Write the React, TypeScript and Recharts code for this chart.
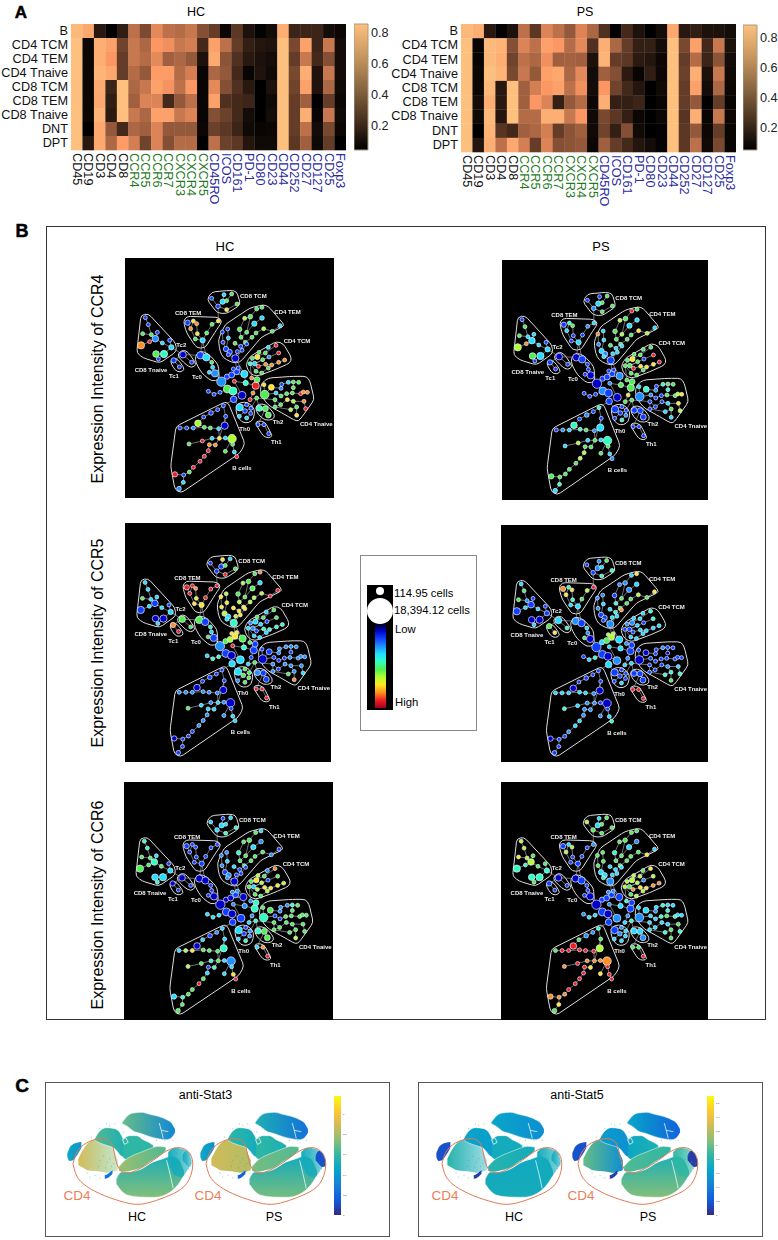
import React from "react";
import {
  Area,
  Bar,
  BarChart,
  ComposedChart,
  Line,
  ReferenceArea,
  Scatter,
  ScatterChart,
  XAxis,
  YAxis,
} from "recharts";

const FONT = "'Liberation Sans', Arial, sans-serif";

// ---- panel A ----
const rowNames = ["B", "CD4 TCM", "CD4 TEM", "CD4 Tnaive", "CD8 TCM", "CD8 TEM", "CD8 Tnaive", "DNT", "DPT"];
const lineageMarkers = ["CD45", "CD19", "CD3", "CD4", "CD8"];
const chemokineMarkers = ["CCR4", "CCR5", "CCR6", "CCR7", "CXCR3", "CXCR4", "CXCR5"];
const functionMarkers = ["CD45RO", "ICOS", "CD161", "PD-1", "CD80", "CD23", "CD44", "CD252", "CD27", "CD127", "CD25", "Foxp3"];
const markers = [...lineageMarkers, ...chemokineMarkers, ...functionMarkers];

const heatHC = [
  [.82, .75, .15, .06, .17, .52, .36, .62, .52, .50, .55, .38, .30, .08, .28, .12, .06, .10, .78, .20, .20, .20, .10, .08],
  [.85, .08, .78, .72, .33, .55, .48, .68, .65, .55, .58, .22, .72, .52, .30, .18, .14, .13, .85, .35, .72, .20, .55, .10],
  [.85, .08, .78, .68, .30, .55, .50, .62, .45, .48, .42, .12, .76, .40, .25, .15, .12, .10, .85, .30, .55, .22, .38, .10],
  [.85, .08, .80, .75, .30, .50, .42, .70, .70, .50, .58, .07, .48, .42, .22, .07, .13, .09, .85, .35, .78, .13, .55, .10],
  [.85, .08, .76, .20, .85, .48, .55, .72, .66, .52, .68, .07, .62, .38, .25, .15, .04, .12, .85, .33, .72, .13, .48, .09],
  [.85, .08, .75, .17, .85, .45, .60, .60, .22, .42, .52, .07, .72, .25, .22, .20, .04, .09, .85, .30, .45, .05, .30, .08],
  [.85, .08, .80, .16, .87, .55, .48, .72, .72, .55, .60, .07, .38, .32, .22, .10, .04, .10, .85, .30, .78, .07, .55, .09],
  [.85, .04, .75, .42, .22, .48, .45, .60, .42, .42, .42, .08, .32, .28, .20, .09, .07, .08, .85, .30, .52, .10, .35, .08],
  [.85, .15, .75, .48, .70, .58, .33, .60, .38, .50, .50, .05, .52, .32, .28, .14, .09, .09, .85, .28, .45, .09, .30, .05],
];

const heatPS = [
  [.82, .78, .15, .06, .12, .52, .28, .60, .52, .42, .60, .48, .25, .06, .22, .12, .05, .10, .75, .15, .17, .12, .12, .10],
  [.88, .07, .82, .80, .38, .60, .52, .72, .68, .50, .62, .25, .78, .48, .30, .18, .18, .10, .88, .35, .72, .22, .55, .12],
  [.88, .07, .82, .78, .33, .52, .48, .65, .45, .46, .45, .12, .80, .30, .28, .16, .14, .08, .88, .30, .50, .20, .40, .10],
  [.88, .08, .85, .80, .35, .55, .42, .72, .75, .48, .62, .10, .45, .38, .16, .07, .17, .08, .88, .32, .78, .12, .55, .09],
  [.88, .08, .82, .15, .85, .45, .58, .68, .72, .52, .65, .10, .68, .33, .22, .14, .04, .09, .88, .30, .72, .10, .48, .08],
  [.88, .10, .78, .15, .85, .45, .68, .60, .18, .42, .50, .08, .78, .18, .18, .20, .04, .07, .88, .30, .42, .05, .30, .07],
  [.88, .09, .82, .14, .88, .50, .50, .78, .78, .55, .68, .09, .35, .28, .18, .08, .04, .08, .88, .27, .78, .07, .55, .08],
  [.88, .04, .80, .27, .22, .45, .48, .58, .30, .40, .45, .09, .33, .18, .38, .09, .05, .06, .88, .28, .42, .08, .30, .07],
  [.88, .14, .78, .52, .75, .58, .30, .60, .38, .40, .42, .08, .45, .30, .22, .14, .10, .06, .88, .28, .52, .09, .35, .07],
];

const copperTicks = [0.2, 0.4, 0.6, 0.8];

// ---- panel B : one tree, six colourings ----
const nodes: [number, number, number][] = [
  // CD8 TCM
  [395, 146, 5], [432, 135, 5], [455, 133, 5], [428, 156, 7], [440, 153, 5], [414, 170, 6], [471, 163, 5], [440, 180, 5],
  // CD8 TEM
  [323, 219, 7], [340, 214, 5], [332, 237, 5], [350, 222, 5], [352, 252, 5], [346, 268, 5], [368, 272, 7], [380, 250, 5], [396, 224, 5], [415, 214, 5],
  // CD8 Tnaive
  [196, 204, 5], [205, 225, 5], [188, 252, 5], [214, 255, 5], [232, 248, 5], [226, 267, 9], [235, 328, 5], [209, 276, 5], [183, 287, 10], [247, 280, 5], [269, 272, 5], [274, 293, 7], [228, 313, 9], [252, 313, 10],
  // Tc2, Tc1
  [309, 315, 9], [335, 338, 5], [281, 332, 7], [298, 352, 5],
  // Tc0
  [361, 317, 10], [379, 323, 10], [395, 338, 5], [398, 353, 5], [388, 368, 5], [405, 371, 10],
  // CD4 TEM
  [546, 173, 5], [530, 178, 5], [511, 201, 6], [494, 206, 5], [523, 222, 7], [546, 205, 6], [479, 239, 6], [500, 248, 5], [483, 263, 5], [496, 278, 5], [516, 263, 5], [528, 250, 5], [551, 237, 5], [577, 245, 5], [600, 228, 5],
  [427, 247, 5], [443, 238, 5], [445, 265, 5], [429, 278, 5], [465, 281, 5], [482, 290, 5], [500, 283, 5], [486, 302, 5], [472, 306, 5], [438, 298, 7], [449, 307, 7], [445, 315, 5], [466, 326, 10],
  // CD4 TCM
  [588, 287, 5], [565, 293, 5], [596, 310, 5], [556, 310, 5], [537, 308, 5], [532, 322, 7], [517, 326, 5], [567, 322, 5], [548, 330, 5], [510, 342, 5], [524, 342, 6], [535, 350, 5], [557, 344, 5], [575, 346, 5], [596, 338, 5], [614, 331, 5], [528, 365, 5], [545, 370, 5], [565, 355, 5],
  // centre
  [424, 396, 13], [442, 418, 11], [459, 424, 11], [486, 437, 11], [461, 449, 9], [441, 381, 7], [455, 376, 8], [470, 366, 8], [493, 373, 10], [497, 400, 7], [527, 408, 10], [531, 390, 8], [515, 385, 5], [460, 358, 5], [475, 355, 5], [463, 395, 5], [385, 425, 5], [402, 434, 5], [420, 428, 5], [519, 430, 5], [510, 450, 5], [530, 445, 5],
  // CD4 Tnaive
  [554, 435, 12], [574, 413, 8], [552, 405, 5], [605, 404, 5], [625, 398, 5], [640, 397, 5], [640, 414, 5], [656, 398, 5], [603, 416, 5], [588, 430, 5], [603, 439, 5], [620, 432, 5], [637, 430, 5], [662, 432, 5], [682, 428, 5], [670, 427, 5], [622, 450, 5], [640, 455, 5], [672, 455, 5], [650, 472, 5], [650, 497, 5], [632, 480, 5], [677, 477, 5], [602, 465, 5], [585, 472, 5], [585, 450, 5],
  // Th2
  [538, 476, 8], [556, 477, 8], [565, 496, 8],
  // Th0
  [479, 473, 10], [500, 465, 5], [495, 484, 6], [513, 476, 5], [512, 491, 5], [500, 505, 5], [478, 500, 5],
  // Th1
  [534, 525, 5], [552, 525, 5], [566, 552, 5],
  // B cells
  [430, 468, 5], [413, 480, 5], [393, 490, 6], [371, 502, 5], [354, 521, 9], [373, 533, 5], [391, 535, 5], [416, 537, 5], [434, 528, 10], [300, 535, 5], [320, 535, 5], [340, 535, 5], [437, 500, 5], [456, 567, 12], [436, 565, 5], [418, 566, 5], [396, 566, 5], [367, 574, 5], [327, 583, 5], [406, 586, 5], [388, 585, 5], [385, 603, 5], [373, 620, 5], [360, 635, 5], [340, 653, 5], [328, 667, 5], [311, 676, 5], [285, 674, 7], [310, 698, 5], [297, 717, 6], [436, 605, 5], [458, 584, 5], [463, 607, 5], [470, 621, 5],
];

const branches = [
  [0, 5], [1, 3, 5], [2, 4, 3], [6, 7, 5], [5, 17],
  [8, 10, 13, 14], [9, 10], [11, 12, 14], [14, 15, 16, 17],
  [18, 19, 21, 23], [20, 21], [22, 23], [26, 25, 23], [23, 27, 29, 31, 30], [28, 29], [31, 24], [29, 32],
  [32, 33], [34, 35], [34, 32], [32, 36], [36, 14], [37, 14], [36, 37, 38, 39, 41], [40, 41], [41, 89],
  [56, 55, 54, 53, 52, 51, 62], [42, 43, 44, 45, 48, 50, 51], [47, 46, 49, 50], [44, 49],
  [58, 59, 66], [57, 60, 66, 68, 69], [67, 69], [61, 62, 64, 69], [63, 64], [65, 69], [69, 96],
  [70, 73, 76, 79], [71, 73], [72, 77, 80], [74, 75, 76], [78, 80, 79], [85, 84, 83, 82, 81, 80], [88, 87, 86, 79], [79, 101],
  [96, 103], [96, 102], [95, 96], [94, 95], [94, 89], [89, 90, 91, 92], [91, 93], [90, 107, 106, 105], [97, 103], [97, 98, 99], [99, 100], [100, 101], [97, 95], [99, 108, 109, 110], [92, 104], [104, 98], [93, 140], [93, 150], [69, 97],
  [113, 111], [112, 111], [112, 119, 114, 115, 116, 118], [117, 116], [111, 120, 121, 122, 123, 124, 125], [126, 124], [136, 134, 127, 128, 129, 133], [128, 130, 131], [135, 132, 130], [135, 136], [110, 136], [134, 135],
  [110, 137, 138, 139], [110, 143], [143, 141, 140], [143, 142, 146], [143, 144, 145], [147, 148, 149], [138, 147],
  [150, 151, 152, 153, 154, 155, 156, 157, 158], [150, 162, 158], [159, 160, 161, 155], [163, 164, 165, 166, 167, 168], [165, 169, 170, 171, 172, 173, 174, 175, 176, 177], [176, 178, 179], [163, 180], [163, 181, 182, 183], [162, 165], [157, 165],
];

const clusterOutlines: [number, number][][] = [
  [[381, 150], [395, 127], [450, 122], [470, 125], [482, 165], [440, 192], [412, 190]],
  [[310, 215], [320, 200], [415, 203], [427, 215], [410, 240], [375, 295], [350, 295], [320, 250]],
  [[170, 310], [183, 196], [205, 192], [287, 280], [290, 305], [240, 340], [190, 325]],
  [[295, 310], [310, 300], [325, 308], [350, 345], [335, 355], [318, 345], [295, 322]],
  [[270, 335], [280, 325], [295, 330], [315, 360], [300, 368], [285, 362]],
  [[345, 320], [360, 303], [385, 312], [415, 345], [418, 390], [395, 395], [365, 370], [348, 340]],
  [[415, 270], [435, 225], [510, 175], [550, 165], [565, 170], [615, 228], [545, 262], [480, 338], [460, 340], [430, 325], [420, 305]],
  [[497, 345], [510, 320], [590, 275], [610, 282], [635, 325], [630, 340], [585, 360], [530, 380], [510, 372]],
  [[540, 425], [545, 400], [565, 385], [640, 380], [680, 380], [690, 395], [703, 450], [660, 510], [650, 515], [615, 495], [570, 470], [555, 455]],
  [[525, 475], [535, 462], [560, 465], [585, 495], [580, 510], [555, 512], [535, 495]],
  [[467, 470], [480, 458], [505, 458], [525, 480], [520, 510], [505, 520], [485, 518], [470, 495]],
  [[525, 520], [535, 513], [555, 517], [578, 560], [565, 565], [550, 560]],
  [[288, 530], [435, 457], [445, 460], [495, 582], [480, 610], [303, 730], [285, 720], [272, 650]],
];

const clusterLabels = ["CD8 TCM", "CD8 TEM", "CD4 TEM", "CD4 TCM", "Tc2", "CD8 Tnaive", "Tc1", "Tc0", "CD4 Tnaive", "Th2", "Th0", "Th1", "B cells"];
const clusterLabelX = [480, 285, 583, 611, 289, 164, 267, 336, 660, 578, 478, 573, 457];
const clusterLabelY = [139, 191, 188, 273, 285, 360, 380, 382, 523, 518, 537, 578, 656];

// expression level 0 (low) .. 9 (high), same node order as `nodes`
const ccr4HC = [
  1, 3, 5, 3, 5, 1, 5, 7,
  1, 7, 8, 8, 7, 5, 3, 5, 5, 7,
  1, 1, 5, 5, 1, 2, 1, 9, 8, 3, 1, 3, 5, 4,
  0, 1, 1, 1,
  1, 3, 5, 3, 3, 2,
  5, 5, 5, 6, 3, 3, 5, 5, 5, 5, 5, 5, 6, 5, 3, 1, 1, 3, 1, 5, 1, 1, 1, 1, 1, 1, 1, 0,
  9, 3, 9, 5, 5, 7, 5, 2, 5, 4, 3, 9, 8, 8, 8, 8, 5, 5, 5,
  2, 5, 4, 0, 1, 1, 1, 1, 3, 4, 9, 5, 8, 1, 1, 9, 1, 1, 1, 8, 9, 5,
  5, 7, 7, 1, 3, 5, 5, 5, 2, 3, 5, 5, 5, 9, 8, 8, 7, 6, 8, 5, 7, 6, 9, 5, 5, 5,
  4, 5, 5,
  3, 1, 1, 1, 1, 3, 3,
  1, 1, 1,
  1, 1, 1, 1, 6, 5, 5, 3, 0, 1, 1, 2, 1, 6, 3, 7, 3, 9, 5, 8, 8, 9, 9, 9, 9, 5, 1, 9, 3, 2, 5, 5, 3, 9,
];
const ccr4PS = [
  1, 1, 5, 3, 5, 2, 5, 5,
  1, 4, 3, 5, 1, 1, 3, 1, 2, 3,
  1, 5, 5, 3, 3, 3, 1, 8, 6, 3, 1, 3, 5, 3,
  0, 1, 1, 1,
  0, 1, 1, 1, 1, 0,
  5, 9, 5, 6, 3, 3, 5, 6, 5, 5, 5, 5, 7, 6, 3, 8, 3, 3, 2, 5, 3, 3, 3, 3, 3, 2, 3, 1,
  5, 5, 9, 5, 5, 7, 5, 1, 5, 5, 5, 9, 7, 7, 7, 9, 5, 5, 5,
  0, 2, 1, 0, 1, 1, 1, 1, 2, 5, 5, 5, 5, 1, 1, 2, 1, 1, 1, 7, 5, 5,
  2, 4, 3, 1, 4, 5, 4, 5, 2, 2, 1, 1, 5, 5, 7, 6, 1, 3, 7, 5, 3, 3, 6, 1, 1, 1,
  1, 1, 1,
  1, 1, 1, 1, 2, 4, 1,
  1, 1, 1,
  4, 1, 2, 1, 4, 4, 5, 2, 3, 1, 2, 3, 1, 4, 3, 5, 3, 6, 3, 5, 5, 6, 6, 5, 5, 5, 5, 5, 4, 3, 5, 5, 3, 2,
];
const ccr5HC = [
  1, 7, 3, 1, 5, 1, 5, 9,
  9, 9, 9, 8, 7, 7, 7, 9, 9, 9,
  3, 3, 5, 3, 3, 1, 3, 3, 1, 3, 1, 3, 0, 0,
  5, 5, 8, 9,
  5, 1, 4, 3, 5, 1,
  8, 5, 5, 6, 5, 3, 5, 5, 6, 7, 6, 6, 6, 9, 9, 7, 6, 7, 7, 7, 7, 7, 7, 6, 6, 3, 3, 4,
  5, 3, 5, 5, 5, 3, 2, 1, 3, 3, 2, 1, 4, 4, 4, 4, 3, 3, 3,
  2, 1, 0, 3, 3, 5, 6, 7, 5, 4, 1, 1, 5, 7, 7, 9, 3, 4, 4, 1, 3, 5,
  0, 1, 1, 2, 2, 2, 1, 2, 2, 1, 1, 1, 2, 2, 2, 2, 2, 2, 2, 2, 8, 5, 3, 1, 2, 2,
  2, 1, 1,
  3, 5, 5, 5, 5, 5, 2,
  9, 9, 9,
  1, 1, 1, 1, 0, 2, 2, 2, 0, 2, 2, 2, 1, 0, 2, 3, 2, 3, 5, 3, 3, 2, 2, 2, 1, 1, 1, 0, 1, 1, 2, 1, 3, 3,
];
const ccr5PS = [
  1, 2, 5, 2, 3, 1, 4, 4,
  8, 4, 7, 7, 4, 3, 3, 5, 6, 9,
  3, 5, 5, 2, 1, 1, 3, 3, 1, 3, 1, 1, 0, 0,
  3, 4, 5, 7,
  2, 1, 3, 2, 5, 0,
  7, 3, 2, 2, 2, 3, 1, 5, 4, 5, 5, 5, 6, 5, 7, 2, 2, 3, 2, 3, 4, 8, 3, 3, 1, 1, 1, 2,
  4, 3, 4, 3, 3, 2, 2, 1, 3, 1, 1, 1, 3, 3, 3, 3, 3, 3, 3,
  1, 1, 0, 2, 3, 3, 5, 6, 3, 3, 1, 1, 2, 6, 6, 3, 1, 3, 4, 2, 3, 3,
  0, 0, 1, 1, 2, 1, 0, 1, 1, 1, 1, 1, 1, 1, 1, 1, 1, 2, 3, 4, 5, 4, 4, 1, 1, 1,
  1, 1, 1,
  1, 1, 1, 1, 1, 3, 1,
  9, 9, 9,
  1, 1, 1, 1, 0, 3, 3, 2, 0, 3, 3, 3, 1, 0, 1, 2, 2, 3, 4, 2, 2, 2, 3, 3, 2, 1, 1, 0, 1, 1, 2, 1, 3, 4,
];
const ccr6HC = [
  3, 1, 3, 3, 3, 3, 4, 4,
  1, 1, 1, 1, 1, 1, 1, 1, 1, 1,
  4, 4, 5, 5, 3, 4, 4, 5, 5, 5, 1, 3, 3, 3,
  0, 1, 0, 1,
  0, 0, 1, 1, 1, 0,
  3, 5, 5, 5, 3, 2, 4, 5, 5, 5, 5, 5, 5, 2, 1, 2, 2, 3, 2, 3, 1, 1, 1, 1, 1, 2, 2, 0,
  8, 2, 5, 5, 6, 7, 5, 1, 6, 5, 3, 6, 7, 7, 7, 6, 5, 5, 6,
  0, 1, 0, 1, 1, 0, 0, 1, 0, 2, 4, 4, 2, 2, 2, 2, 3, 3, 3, 2, 3, 4,
  4, 5, 5, 2, 2, 4, 5, 5, 2, 1, 1, 5, 5, 5, 5, 5, 5, 5, 5, 5, 6, 5, 5, 5, 5, 5,
  4, 5, 5,
  3, 1, 1, 2, 2, 4, 3,
  3, 8, 9,
  3, 2, 1, 3, 0, 5, 5, 5, 4, 3, 6, 7, 3, 2, 3, 5, 4, 5, 6, 4, 1, 3, 5, 9, 5, 5, 4, 3, 5, 5, 3, 3, 7, 9,
];
const ccr6PS = [
  6, 3, 5, 3, 5, 5, 5, 5,
  1, 3, 6, 6, 1, 1, 1, 1, 1, 2,
  6, 6, 7, 6, 5, 6, 5, 4, 4, 5, 5, 4, 4, 4,
  0, 1, 1, 1,
  0, 1, 1, 1, 1, 0,
  5, 5, 5, 5, 3, 2, 4, 5, 5, 5, 5, 5, 5, 7, 3, 5, 5, 5, 5, 3, 3, 3, 3, 3, 3, 3, 4, 2,
  7, 5, 6, 6, 6, 6, 6, 2, 6, 6, 5, 8, 7, 7, 8, 8, 5, 6, 6,
  0, 1, 0, 2, 1, 1, 1, 1, 1, 3, 1, 1, 4, 2, 2, 2, 2, 3, 3, 2, 3, 4,
  2, 3, 3, 3, 4, 3, 4, 3, 2, 3, 3, 4, 5, 4, 3, 3, 3, 3, 5, 5, 5, 4, 4, 3, 3, 3,
  3, 3, 2,
  1, 2, 2, 3, 3, 3, 3,
  5, 5, 9,
  4, 2, 2, 5, 9, 9, 9, 9, 6, 5, 9, 9, 5, 8, 8, 8, 8, 9, 8, 7, 9, 9, 9, 9, 9, 8, 8, 8, 7, 5, 7, 9, 9, 9,
];

const sizeLegendX = [13, 13];
const sizeLegendY = [6, 26];
const sizeLegendR = [4, 13];

// ---- panel C ----
const blobTop = [[368, 185, 190], [385, 165, 200], [400, 158, 212], [425, 156, 220], [450, 162, 229], [475, 168, 235], [500, 178, 238], [515, 188, 232], [525, 205, 218]];
const blobCrescent = [[203, 278, 290], [210, 262, 302], [220, 252, 300], [232, 247, 285], [245, 245, 262]];
const blobLeft = [[236, 295, 315], [250, 268, 322], [265, 248, 330], [285, 238, 332], [305, 236, 334], [325, 243, 337], [340, 268, 334], [354, 300, 330]];
const blobMidUp = [[285, 235, 240], [300, 212, 248], [320, 202, 255], [345, 205, 265], [365, 225, 288], [375, 250, 292]];
const blobMidRight = [[370, 235, 292], [390, 226, 302], [410, 226, 297], [430, 238, 287], [445, 245, 277], [460, 255, 264]];
const blobLower = [[350, 355, 372], [365, 335, 392], [385, 335, 405], [420, 328, 410], [460, 305, 411], [490, 295, 406], [515, 288, 392], [535, 296, 372], [552, 330, 345]];
const blobBand = [[358, 318, 332], [375, 300, 335], [400, 285, 330], [425, 275, 322], [450, 265, 305], [475, 258, 290], [497, 260, 272]];
const blobHaze = [[505, 275, 300], [525, 262, 345], [545, 265, 350], [565, 275, 325], [575, 300, 310]];
const blobStreak = [[315, 345, 355], [325, 340, 352], [338, 330, 340]];
const blobPatch = [[548, 285, 300], [558, 272, 312], [568, 278, 320], [578, 300, 318]];
const blobs = [blobTop, blobCrescent, blobLeft, blobMidUp, blobMidRight, blobLower, blobBand, blobHaze, blobStreak, blobPatch];
const blobStroked = [true, false, false, true, true, true, true, false, false, false];

// parula level at each end of a blob, then the opacity at the far end
const stat3HC = [[.58, .28, 1], [.4, .32, 1], [.76, .62, .4], [.55, .45, 1], [.5, .5, 1], [.44, .62, 1], [.66, .55, 1], [.42, .42, .5], [.2, .2, 1], [.42, .42, 0]];
const stat3PS = [[.45, .2, 1], [.4, .3, 1], [.75, .7, 1], [.5, .42, 1], [.5, .45, 1], [.42, .6, 1], [.6, .55, 1], [.42, .42, .5], [.15, .15, 1], [.1, .1, 1]];
const stat5HC = [[.38, .3, 1], [.1, .1, 1], [.48, .42, .4], [.38, .35, 1], [.42, .42, 1], [.4, .43, 1], [.48, .42, 1], [.42, .42, .5], [.05, .05, 1], [.42, .42, 0]];
const stat5PS = [[.38, .15, 1], [.1, .1, 1], [.58, .3, 1], [.35, .3, 1], [.4, .45, 1], [.45, .62, 1], [.55, .5, 1], [.5, .5, .5], [.05, .05, 1], [.05, .05, 1]];

const cd4Outline = [[220, 310], [235, 270], [270, 243], [310, 235], [335, 250], [345, 285], [355, 320], [375, 337], [410, 330], [460, 300], [500, 272], [540, 262], [570, 280], [578, 320], [560, 370], [520, 400], [470, 420], [415, 432], [360, 422], [300, 400], [250, 370], [228, 340], [220, 310]];

// white seams inside the islands
const seams = [
  [[478, 188], [484, 210], [505, 214]],
  [[484, 210], [490, 234]],
  [[368, 238], [378, 232], [385, 246], [374, 252], [368, 238]],
  [[500, 300], [510, 340], [520, 385]],
];
// stray events outside the dense islands
const speckX = [300, 312, 322, 330, 335, 318, 342, 296, 286, 300, 270, 262, 508, 518, 530, 540, 552, 560, 535, 548, 525, 565, 572, 510, 500, 520, 350, 358, 372, 345, 330, 320, 470, 495, 520, 275, 300];
const speckY = [300, 288, 305, 295, 318, 322, 310, 318, 345, 352, 350, 338, 285, 300, 278, 295, 285, 305, 325, 330, 340, 325, 310, 320, 345, 385, 215, 235, 215, 190, 195, 190, 240, 240, 240, 230, 205];

const stat3Ticks = [0, 0.2, 0.4, 0.6, 0.8, 1];
const stat5Ticks = [0, 0.2, 0.4, 0.6, 0.8, 1, 1.2, 1.4, 1.6];

// ---- colour helpers ----
function copper(v: number) {
  const t = Math.max(0, Math.min(1, (v - 0.05) / 0.8));
  return `rgb(${Math.round(Math.min(253, 320 * t))},${Math.round(192 * t)},${Math.round(126 * t)})`;
}

const RAINBOW = ["#0000c8", "#1040ff", "#2090ff", "#20e0ff", "#30ffc0", "#50f050", "#b0ff30", "#ffe820", "#ff9020", "#f02020"];
const PARULA = ["#352a87", "#0f5cdd", "#1481d6", "#06a4ca", "#2eb7a4", "#87bf77", "#d1bb59", "#fec832", "#f9fb0e"];

function parula(v: number) {
  const p = Math.max(0, Math.min(1, v)) * (PARULA.length - 1);
  const i = Math.min(PARULA.length - 2, Math.floor(p));
  const a = PARULA[i];
  const b = PARULA[i + 1];
  const ch = (s: string, k: number) => parseInt(s.slice(1 + 2 * k, 3 + 2 * k), 16);
  const mix = (k: number) => Math.round(ch(a, k) + (ch(b, k) - ch(a, k)) * (p - i));
  return `rgb(${mix(0)},${mix(1)},${mix(2)})`;
}

function Caption({ x, y, size, rotate, color, weight, children }: any) {
  return (
    <div
      style={{
        position: "absolute",
        left: x,
        top: y,
        transform: `translate(-50%, -50%)${rotate ? ` rotate(${rotate}deg)` : ""}`,
        fontFamily: FONT,
        fontSize: size,
        fontWeight: weight ?? 400,
        color: color ?? "#000",
        whiteSpace: "nowrap",
        lineHeight: 1,
        WebkitTextStroke: weight ? "0.5px #000" : undefined,
      }}
    >
      {children}
    </div>
  );
}

function markerColor(i: number) {
  if (i < lineageMarkers.length) return "#111";
  if (i < lineageMarkers.length + chemokineMarkers.length) return "#1f7a1f";
  return "#2a2aa0";
}

function Heatmap({ left, height, values }: { left: number; height: number; values: number[][] }) {
  const width = 346;
  const cellW = 274.7 / markers.length;
  const cellH = (height - 24 - 65) / rowNames.length;
  const cells = values.flatMap((row, r) => row.map((v, c) => ({ col: c, row: r, value: v })));
  return (
    <div style={{ position: "absolute", left, top: 0 }}>
      <ScatterChart width={width} height={height} margin={{ top: 24, right: 0, bottom: 0, left: 0 }}>
        <XAxis
          type="number"
          dataKey="col"
          domain={[-0.5, markers.length - 0.5]}
          ticks={markers.map((_, i) => i)}
          interval={0}
          height={65}
          axisLine={false}
          tickLine={false}
          tick={(p: any) => (
            <text
              transform={`rotate(90 ${p.x} ${p.y - 5})`}
              x={p.x}
              y={p.y - 5}
              dominantBaseline="central"
              fontSize={12.7}
              fontFamily={FONT}
              fill={markerColor(p.payload.value)}
            >
              {markers[p.payload.value]}
            </text>
          )}
        />
        <YAxis
          type="number"
          dataKey="row"
          reversed
          domain={[-0.5, rowNames.length - 0.5]}
          ticks={rowNames.map((_, i) => i)}
          interval={0}
          width={71}
          axisLine={false}
          tickLine={false}
          tickSize={0}
          tickMargin={3}
          tick={(p: any) => (
            <text x={p.x} y={p.y} textAnchor="end" dominantBaseline="central" fontSize={12.7} fontFamily={FONT} fill="#111">
              {rowNames[p.payload.value]}
            </text>
          )}
        />
        <Scatter
          data={cells}
          isAnimationActive={false}
          shape={(p: any) => (
            <rect
              x={p.cx - cellW / 2}
              y={p.cy - cellH / 2}
              width={cellW + 0.3}
              height={cellH + 0.3}
              fill={copper(p.payload.value)}
            />
          )}
        />
      </ScatterChart>
    </div>
  );
}

function ColorBar({ id, left, top, barW, height, lo, hi, ticks, stops, fontSize, stroke, tickW, format }: any) {
  // a few spare pixels so the end tick labels are not clipped
  const pad = 4;
  return (
    <div style={{ position: "absolute", left, top: top - pad }}>
      <BarChart
        width={barW + tickW}
        height={height + 2 * pad}
        data={[{ name: "bar", top: hi }]}
        margin={{ top: pad, right: 0, bottom: pad, left: 0 }}
        barCategoryGap={0}
      >
        <defs>
          <linearGradient id={id} x1="0" y1="0" x2="0" y2="1">
            {stops.map((c: string, i: number) => (
              <stop key={i} offset={i / (stops.length - 1)} stopColor={c} />
            ))}
          </linearGradient>
        </defs>
        <XAxis dataKey="name" hide />
        <YAxis
          orientation="right"
          type="number"
          domain={[lo, hi]}
          ticks={ticks}
          interval={0}
          width={tickW}
          axisLine={false}
          tickLine={false}
          tickSize={0}
          tickMargin={format ? 2 : 3}
          tickFormatter={format}
          tick={{ fontSize, fontFamily: FONT, fill: "#222" }}
        />
        <Bar dataKey="top" fill={`url(#${id})`} stroke={stroke} isAnimationActive={false} />
      </BarChart>
    </div>
  );
}

// outlines have soft corners in the figure: cut each corner a little
function softCorners(poly: [number, number][]) {
  const cut = 11;
  return poly.flatMap((p, i) => {
    const a = poly[(i + poly.length - 1) % poly.length];
    const b = poly[(i + 1) % poly.length];
    const toward = (q: [number, number]) => {
      const d = Math.hypot(q[0] - p[0], q[1] - p[1]);
      const t = Math.min(cut, d / 2) / d;
      return [p[0] + (q[0] - p[0]) * t, p[1] + (q[1] - p[1]) * t];
    };
    const s = toward(a);
    const e = toward(b);
    const m = [(s[0] + 2 * p[0] + e[0]) / 4, (s[1] + 2 * p[1] + e[1]) / 4];
    return [s, m, e];
  });
}

const edgePoints = branches.flatMap((chain) => [
  ...chain.map((i) => ({ x: nodes[i][0], y: nodes[i][1] as number | null })),
  { x: nodes[chain[0]][0], y: null },
]);
const outlinePoints = clusterOutlines.flatMap((poly) => {
  const soft = softCorners(poly);
  return [
    ...[...soft, soft[0]].map(([x, y]) => ({ x, y: y as number | null })),
    { x: poly[0][0], y: null },
  ];
});
const labelPoints = clusterLabels.map((name, i) => ({ x: clusterLabelX[i], y: clusterLabelY[i], name }));

function TreePanel({ x0, x1, y0, y1, levels }: { x0: number; x1: number; y0: number; y1: number; levels: number[] }) {
  const points = nodes.map(([x, y, r], i) => ({ x, y, r, level: levels[i] ?? 1 }));
  return (
    <div style={{ position: "absolute", left: x0, top: y0, filter: "blur(0.35px)" }}>
      <ComposedChart
        width={x1 - x0}
        height={y1 - y0}
        margin={{ top: 0, right: 0, bottom: 0, left: 0 }}
        style={{ background: "#000" }}
      >
        <XAxis type="number" dataKey="x" domain={[135, 762]} hide />
        <YAxis type="number" dataKey="y" domain={[25, 745]} reversed hide />
        <Line data={outlinePoints} dataKey="y" stroke="#ddd" strokeWidth={1} strokeLinejoin="round" dot={false} isAnimationActive={false} />
        <Line data={edgePoints} dataKey="y" stroke="#b8b8b8" strokeWidth={0.6} dot={false} isAnimationActive={false} />
        <Scatter
          data={points}
          isAnimationActive={false}
          shape={(p: any) => (
            <circle cx={p.cx} cy={p.cy} r={p.payload.r / 3 + 0.3} fill={RAINBOW[p.payload.level]} stroke="#e8e8ff" strokeWidth={0.7} />
          )}
        />
        <Scatter
          data={labelPoints}
          isAnimationActive={false}
          shape={(p: any) => (
            <text x={p.cx} y={p.cy} fontSize={6} fontWeight={700} fontFamily={FONT} fill="#eee" dominantBaseline="central">
              {p.payload.name}
            </text>
          )}
        />
      </ComposedChart>
    </div>
  );
}

function SizeRamp() {
  const sizes = sizeLegendX.map((x, i) => ({ x, y: sizeLegendY[i], r: sizeLegendR[i] }));
  return (
    <div style={{ position: "absolute", left: 367, top: 585, filter: "blur(0.5px)" }}>
      <ComposedChart width={26} height={125} margin={{ top: 0, right: 0, bottom: 0, left: 0 }} style={{ background: "#000" }}>
        <defs>
          <linearGradient id="rainbowRamp" x1="0" y1="0" x2="0" y2="1">
            {["#000", ...RAINBOW, "#a00020"].map((c, i) => (
              <stop key={i} offset={i / 11} stopColor={c} />
            ))}
          </linearGradient>
        </defs>
        <XAxis type="number" dataKey="x" domain={[0, 26]} hide />
        <YAxis type="number" dataKey="y" domain={[0, 125]} reversed hide />
        <ReferenceArea x1={8} x2={19} y1={38} y2={123} fill="url(#rainbowRamp)" fillOpacity={1} stroke="none" />
        <Scatter
          data={sizes}
          isAnimationActive={false}
          shape={(p: any) => <circle cx={p.cx} cy={p.cy} r={p.payload.r} fill="#fff" />}
        />
      </ComposedChart>
    </div>
  );
}

const seamPoints = seams.flatMap((s) => [
  ...s.map(([x, y]) => ({ x, y: y as number | null })),
  { x: s[0][0], y: null },
]);
const speckPoints = speckX.map((x, i) => ({ x, y: speckY[i] }));

function TsneMap({ id, left, levels }: { id: string; left: number; levels: number[][] }) {
  const speckColor = parula(levels[7][0]);
  return (
    <div style={{ position: "absolute", left, top: 1106.7, filter: "blur(0.3px)" }}>
      <ComposedChart width={137} height={100} margin={{ top: 0, right: 0, bottom: 0, left: 0 }}>
        <defs>
          {levels.map((pair, i) => (
            <linearGradient key={i} id={`${id}-${i}`} x1="0" y1="0" x2={blobs[i] === blobLower ? "0" : "1"} y2={blobs[i] === blobLower ? "1" : "0"}>
              <stop offset="0" stopColor={parula(pair[0])} />
              <stop offset="1" stopColor={parula(pair[1])} stopOpacity={pair[2]} />
            </linearGradient>
          ))}
        </defs>
        <XAxis type="number" dataKey="x" domain={[190, 600]} hide />
        <YAxis type="number" dataKey="y" domain={[140, 440]} reversed hide />
        {blobs.map((blob, i) => (
          <Area
            key={i}
            data={blob.map(([x, lo, hi]) => ({ x, range: [lo, hi] }))}
            dataKey="range"
            type="monotone"
            fill={`url(#${id}-${i})`}
            fillOpacity={1}
            stroke={blobStroked[i] ? "#fff" : "none"}
            strokeWidth={0.5}
            dot={false}
            activeDot={false}
            isAnimationActive={false}
          />
        ))}
        <Line data={seamPoints} dataKey="y" stroke="#fff" strokeWidth={0.7} dot={false} isAnimationActive={false} />
        <Scatter
          data={speckPoints}
          isAnimationActive={false}
          shape={(p: any) => <circle cx={p.cx} cy={p.cy} r={0.5} fill={speckColor} fillOpacity={0.7} />}
        />
        <Line
          data={cd4Outline.map(([x, y]) => ({ x, y }))}
          dataKey="y"
          type="natural"
          stroke="#e07a55"
          strokeWidth={1}
          dot={false}
          isAnimationActive={false}
        />
      </ComposedChart>
    </div>
  );
}

const parulaStops = ["#f9fb0e", "#fec832", "#d1bb59", "#87bf77", "#2eb7a4", "#06a4ca", "#1481d6", "#0f5cdd", "#352a87"];
const copperStops = ["#fdc07e", "#c89860", "#8a6842", "#4a3420", "#000000"];

export default function App() {
  return (
    <div style={{ position: "absolute", left: 0, top: 0, width: 778, height: 1240, overflow: "hidden", background: "#fff" }}>
      {/* panel A */}
      <Caption x={21} y={12} size={17} weight={700}>A</Caption>
      <Caption x={196} y={12} size={12.5}>HC</Caption>
      <Caption x={585} y={12} size={12.5}>PS</Caption>
      <Heatmap left={0} height={215} values={heatHC} />
      <Heatmap left={390} height={217} values={heatPS} />
      <ColorBar id="copperHC" left={354} top={24} barW={14} height={126} lo={0.043} hi={0.856} ticks={copperTicks} stops={copperStops} fontSize={12.7} stroke="#a89a80" tickW={30} />
      <ColorBar id="copperPS" left={743} top={25} barW={14} height={125} lo={0.05} hi={0.88} ticks={copperTicks} stops={copperStops} fontSize={12.7} stroke="#a89a80" tickW={21} />

      {/* panel B */}
      <Caption x={22} y={231} size={18} weight={700}>B</Caption>
      <div style={{ position: "absolute", left: 46, top: 226, width: 718, height: 792, border: "1px solid #333" }} />
      <Caption x={225} y={246} size={13}>HC</Caption>
      <Caption x={601} y={246} size={13}>PS</Caption>
      <Caption x={98} y={379} size={16} rotate={-90}>Expression Intensity of CCR4</Caption>
      <Caption x={98} y={643} size={16} rotate={-90}>Expression Intensity of CCR5</Caption>
      <Caption x={98} y={905} size={16} rotate={-90}>Expression Intensity of CCR6</Caption>
      <TreePanel x0={125} x1={334} y0={258} y1={498} levels={ccr4HC} />
      <TreePanel x0={502} x1={708} y0={260} y1={500} levels={ccr4PS} />
      <TreePanel x0={125} x1={331} y0={523} y1={762} levels={ccr5HC} />
      <TreePanel x0={501} x1={708} y0={525} y1={762} levels={ccr5PS} />
      <TreePanel x0={124} x1={333} y0={782} y1={1020} levels={ccr6HC} />
      <TreePanel x0={501} x1={708} y0={782} y1={1020} levels={ccr6PS} />

      <div style={{ position: "absolute", left: 360, top: 555, width: 115, height: 174, border: "1px solid #888" }} />
      <SizeRamp />
      <div style={{ position: "absolute", left: 394, top: 588, fontFamily: FONT, fontSize: 11.3, lineHeight: 1, whiteSpace: "nowrap" }}>114.95 cells</div>
      <div style={{ position: "absolute", left: 394, top: 605, fontFamily: FONT, fontSize: 11.3, lineHeight: 1, whiteSpace: "nowrap" }}>18,394.12 cells</div>
      <div style={{ position: "absolute", left: 395, top: 624, fontFamily: FONT, fontSize: 11.3, lineHeight: 1 }}>Low</div>
      <div style={{ position: "absolute", left: 395, top: 697, fontFamily: FONT, fontSize: 11.3, lineHeight: 1 }}>High</div>

      {/* panel C */}
      <Caption x={22} y={1085} size={19} weight={700}>C</Caption>
      <div style={{ position: "absolute", left: 45, top: 1082, width: 343, height: 153, border: "1px solid #555" }} />
      <div style={{ position: "absolute", left: 418, top: 1082, width: 343, height: 153, border: "1px solid #555" }} />
      <Caption x={205.5} y={1095} size={12.5}>anti-Stat3</Caption>
      <Caption x={577} y={1095} size={12.5}>anti-Stat5</Caption>

      <TsneMap id="s3h" left={63.3} levels={stat3HC} />
      <TsneMap id="s3p" left={195.6} levels={stat3PS} />
      <TsneMap id="s5h" left={432} levels={stat5HC} />
      <TsneMap id="s5p" left={568} levels={stat5PS} />

      <Caption x={77} y={1196} size={13.5} color="#e8805a">CD4</Caption>
      <Caption x={208} y={1196} size={13.5} color="#e8805a">CD4</Caption>
      <Caption x={445} y={1196} size={13.5} color="#e8805a">CD4</Caption>
      <Caption x={581} y={1196} size={13.5} color="#e8805a">CD4</Caption>
      <Caption x={137} y={1217} size={12.5}>HC</Caption>
      <Caption x={274} y={1217} size={12.5}>PS</Caption>
      <Caption x={514} y={1217} size={12.5}>HC</Caption>
      <Caption x={648} y={1217} size={12.5}>PS</Caption>

      <ColorBar id="parulaA" left={333.5} top={1096} barW={7} height={119} lo={0} hi={1.18} ticks={stat3Ticks} stops={parulaStops} fontSize={2.5} stroke="none" tickW={12} format={(v: number) => `${v}`} />
      <ColorBar id="parulaB" left={707} top={1096} barW={7} height={119} lo={0} hi={1.7} ticks={stat5Ticks} stops={parulaStops} fontSize={2.5} stroke="none" tickW={12} format={(v: number) => `${v}`} />
    </div>
  );
}
